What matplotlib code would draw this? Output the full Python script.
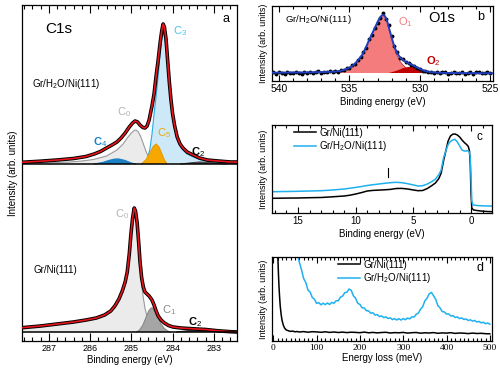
import matplotlib
matplotlib.use('Agg')
import matplotlib.pyplot as plt
from matplotlib.ticker import MultipleLocator
from matplotlib.lines import Line2D
import numpy as np

plt.rcParams['font.family'] = ['Liberation Sans', 'DejaVu Sans']
plt.rcParams['mathtext.fontset'] = 'custom'
plt.rcParams['mathtext.rm'] = 'Liberation Sans'
plt.rcParams['mathtext.it'] = 'Liberation Sans:italic'
plt.rcParams['mathtext.bf'] = 'Liberation Sans:bold'

# ---------------- Panel a: C1s ----------------
# Gr/H2O/Ni(111) (upper spectrum)
top_E = [287.65, 287.2, 286.8, 286.4, 286.1, 285.9, 285.75, 285.6, 285.45, 285.35, 285.25, 285.15,
         285.05, 284.97, 284.91, 284.85, 284.79, 284.72, 284.67, 284.62, 284.57, 284.54, 284.50,
         284.45, 284.40, 284.35, 284.30, 284.26, 284.23, 284.20, 284.16, 284.12, 284.08, 284.04,
         284.00, 283.95, 283.89, 283.82, 283.75, 283.65, 283.50, 283.35, 283.16, 282.9, 282.6, 282.44]
top_I = [1.7, 2.8, 4.0, 5.5, 7.5, 10, 12.5, 16, 19.5, 22, 26, 31, 37, 41, 43, 42, 39, 36.5, 36, 38,
         44, 50, 58, 70, 88, 104, 122, 134, 140, 137, 125, 103, 82, 64, 50, 38, 27, 20, 16, 12, 9,
         6, 4, 3, 2, 2]
c0t_E = [287.65, 287.0, 286.5, 286.2, 285.92, 285.6, 285.35, 285.2, 285.1, 285.0, 284.93, 284.89,
         284.83, 284.77, 284.7, 284.63, 284.55, 284.48, 284.4]
c0t_I = [0.8, 1.2, 2, 3, 4.5, 8, 14, 20, 26, 31, 33.5, 34, 32, 27, 19, 11, 5, 2, 0.5]
c3_E = [284.75, 284.65, 284.6, 284.55, 284.5, 284.45, 284.4, 284.35, 284.3, 284.26, 284.23, 284.2,
        284.16, 284.12, 284.08, 284.04, 284.0, 283.95, 283.89, 283.82, 283.75, 283.65, 283.5,
        283.35, 283.16, 282.9, 282.6]
c3_I = [0, 3, 7, 15, 30, 50, 68, 88, 112, 126, 131, 128, 117, 97, 77, 60, 46, 35, 25, 18, 14, 10,
        7, 4.5, 2.5, 1.5, 1]
c5_E = [284.75, 284.65, 284.55, 284.47, 284.40, 284.33, 284.26, 284.2, 284.14]
c5_I = [0, 4, 11, 17.5, 20, 17, 10, 4, 0.5]
c4_E = [285.9, 285.7, 285.55, 285.4, 285.3, 285.15, 285.0, 284.9]
c4_I = [0, 1.5, 3.5, 5, 5, 3.5, 1, 0]
c2t_E = [283.8, 283.55, 283.35, 283.15, 282.95, 282.7]
c2t_I = [0, 1.2, 2, 1.6, 0.8, 0]

# Gr/Ni(111) (lower spectrum)
bot_E = [287.65, 287.2, 286.8, 286.4, 286.1, 285.85, 285.65, 285.5, 285.4, 285.3, 285.22, 285.15,
         285.1, 285.05, 285.01, 284.97, 284.93, 284.9, 284.86, 284.82, 284.79, 284.75, 284.71,
         284.67, 284.62, 284.57, 284.5, 284.45, 284.4, 284.35, 284.28, 284.2, 284.1, 283.99,
         283.8, 283.5, 283.2, 282.9, 282.6, 282.44]
bot_I = [4.3, 6, 8, 10, 12, 14, 17, 21, 26, 33, 41, 50, 60, 78, 98, 114, 124, 121, 109, 88, 70,
         54, 45, 40, 38, 36, 32, 27, 21, 16, 12, 9, 6.5, 5, 4, 3.2, 2.5, 1.2, 0.3, 0]
c0b_E = [287.65, 287.2, 286.8, 286.4, 286.1, 285.85, 285.65, 285.5, 285.4, 285.3, 285.22, 285.15,
         285.1, 285.05, 285.01, 284.97, 284.93, 284.9, 284.86, 284.82, 284.79, 284.75, 284.71,
         284.67, 284.62, 284.57, 284.5, 284.45, 284.38, 284.3]
c0b_I = [4, 5.7, 7.6, 9.6, 11.5, 13.5, 16.5, 20.5, 25.5, 32.5, 40.5, 49.5, 59.5, 77.5, 97.5, 113,
         122, 119, 106, 84, 65, 47, 34, 24, 15, 9, 4.5, 2.5, 1, 0]
c1_E = [284.88, 284.8, 284.72, 284.65, 284.58, 284.52, 284.48, 284.42, 284.35, 284.28, 284.2,
        284.12, 284.05]
c1_I = [0, 2, 7, 14, 21, 24, 24, 20, 14, 8, 3.5, 1, 0]
c2b_E = [283.9, 283.6, 283.35, 283.1, 282.8, 282.5]
c2b_I = [0, 1.5, 2.5, 2, 0.8, 0]

# ---------------- Panel b: O1s ----------------
b_dat_E = list(np.round(np.arange(540.4, 524.95, -0.2), 1))
b_dat_I = [0.8, -0.5, 1.2, 0.1, -0.8, 1.0, 0.4, -0.3, 1.3, 0.2, -0.6, 1.1, 0.3, 1.5, -0.2, 0.9,
           1.6, 0.2, 1.4, 0.6, 1.9, 0.8, 2.2, 1.5, 3.4, 2.6, 4.9, 4.6, 7.9, 8.8, 13.0, 15.8, 21.5,
           25.4, 33.6, 38.0, 45.5, 50.2, 55.1, 59.8, 54.0, 47.6, 37.1, 26.8, 21.0, 15.1, 13.8,
           10.9, 10.4, 8.3, 7.4, 5.0, 4.4, 2.2, 2.5, 0.8, 1.4, -0.1, 0.9, -0.4, 0.6, 1.0, -0.6,
           0.4, 1.2, -0.2, 0.3, 1.1, -0.7, 0.2, 0.9, -0.5, 0.6, 1.3, -0.2, 0.4, 0.9, -0.4]
b_fit_E = [540.5, 539, 538, 537, 536.1, 535.7, 535.4, 535.0, 534.7, 534.4, 534.1, 533.85, 533.6,
           533.35, 533.1, 532.95, 532.8, 532.7, 532.6, 532.5, 532.4, 532.3, 532.15, 531.95, 531.8,
           531.6, 531.4, 531.2, 531.0, 530.8, 530.55, 530.3, 530.0, 529.7, 529.3, 528.7, 528, 526,
           524.8]
b_fit_I = [0.3, 0.5, 0.6, 0.9, 1.3, 2.0, 3.0, 5.2, 8.0, 12.5, 18.0, 25, 33, 40.5, 48, 52.5, 56,
           57.5, 58, 57.2, 55, 51, 43, 33, 26, 19.7, 15.5, 13, 11.2, 9.7, 8.2, 6.3, 4.2, 2.3, 1.0,
           0.3, 0.0, -0.2, -0.3]
b_o1_E = [537, 536.1, 535.4, 535.0, 534.7, 534.4, 534.1, 533.85, 533.6, 533.35, 533.1, 532.95,
          532.8, 532.7, 532.6, 532.5, 532.4, 532.3, 532.15, 531.95, 531.8, 531.6, 531.4, 531.2,
          531.0, 530.8, 530.55, 530.3, 529.7, 529.0]
b_o1_I = [0.2, 0.9, 2.6, 4.8, 7.5, 12, 17.5, 24.5, 32.5, 40, 47.5, 52, 55.5, 57, 57.5, 56.7, 54.5,
          50.5, 42.5, 32, 24.5, 17, 11.5, 8, 5.3, 3.5, 2.2, 1.2, 0.3, 0]
b_o2_E = [532.2, 531.9, 531.6, 531.4, 531.2, 531.0, 530.8, 530.6, 530.4, 530.2, 530.0, 529.8,
          529.6, 529.4, 529.1]
b_o2_I = [0, 1.2, 2.5, 3.6, 4.8, 5.6, 6.0, 6.1, 5.8, 5.0, 3.8, 2.5, 1.5, 0.8, 0]

# ---------------- Panel c: valence band ----------------
c_blk_E = [17.2, 16, 15, 14, 13, 12, 11, 10.5, 10, 9.5, 9, 8.5, 8, 7.5, 7, 6.5, 6, 5.5, 5, 4.6,
           4.2, 3.8, 3.4, 3.1, 2.8, 2.6, 2.4, 2.2, 2.0, 1.8, 1.6, 1.4, 1.2, 1.0, 0.8, 0.6, 0.4,
           0.25, 0.15, 0.08, 0.02, -0.05, -0.2, -0.6, -1.0, -1.4, -1.8]
c_blk_I = [14.7, 14.9, 15.0, 15.3, 15.5, 16.2, 17.0, 17.8, 19.0, 20.4, 22.0, 22.6, 22.9, 23.2,
           23.6, 24.5, 24.6, 24.0, 23.0, 22.3, 22.5, 24.5, 27.5, 30.0, 34.5, 40.0, 52.0, 62.0,
           72.0, 77.0, 78.8, 79.0, 78.0, 76.0, 73.0, 70.5, 68.5, 66.5, 62.0, 48.0, 20.0, 5.0, 3.0,
           2.3, 1.8, 1.5, 1.3]
c_blu_E = [17.2, 16, 15, 14, 13, 12, 11, 10.5, 10, 9.5, 9, 8.5, 8, 7.5, 7, 6.5, 6, 5.5, 5, 4.6,
           4.2, 3.8, 3.4, 3.1, 2.8, 2.6, 2.4, 2.2, 2.0, 1.8, 1.6, 1.4, 1.2, 1.0, 0.8, 0.6, 0.45,
           0.3, 0.2, 0.1, 0.03, -0.05, -0.15, -0.6, -1.0, -1.4, -1.8]
c_blu_I = [21.3, 21.5, 21.7, 22.0, 22.3, 23.0, 24.0, 24.8, 25.6, 26.5, 27.5, 28.3, 29.0, 29.7,
           30.3, 30.7, 30.3, 29.3, 28.0, 27.0, 27.3, 29.0, 31.5, 33.8, 38.5, 43.0, 55.0, 62.0,
           68.5, 71.5, 73.0, 73.6, 71.0, 67.0, 63.0, 62.0, 62.0, 62.3, 61.5, 58.0, 40.0, 12.0,
           8.0, 7.4, 7.2, 7.0, 7.0]
c_mark_E = 7.2
c_mark_I = [36, 45]

# ---------------- Panel d: HREELS ----------------
d_blk_E = [9, 10, 11, 12, 13, 14, 15, 16, 18, 20, 23, 26, 30, 35, 40, 45, 50, 55, 60] + \
          list(range(70, 501, 10))
d_blk_I = [100, 90, 78, 66, 56, 48, 41, 35, 27, 21, 16, 13, 11, 10.2, 9.6, 9.9, 9.2, 9.5, 9.0,
           9.4, 8.8, 9.3, 9.1, 8.7, 9.2, 8.6, 9.0, 8.5, 8.9,
           8.4, 8.8, 8.6, 8.3, 8.9, 8.2, 8.6, 8.1, 8.5, 8.7,
           8.0, 8.4, 8.2, 8.6, 7.9, 8.3, 8.5, 7.8, 8.2, 8.0,
           8.4, 7.7, 8.1, 7.9, 8.3, 7.6, 8.0, 7.8, 7.4, 7.9,
           7.5, 7.7, 7.3, 7.2]
d_blu_E = list(range(55, 501, 5))
d_blu_I = [88, 79, 71.5, 62.5, 58.5, 51, 49, 43.5, 41.8, 37.6, 38.4, 36.2, 37.8, 36.4, 38.0, 36.5,
           38.6, 37.7, 40.3, 40.2, 43.8, 44.9, 48.3, 48.8, 52.0, 50.6, 45.2, 42.8, 37.7, 36.6,
           33.2, 33.1, 30.3, 30.1, 27.8, 28.2, 25.9, 26.4, 24.4, 25.1, 23.4, 24.1, 22.5, 23.2,
           21.4, 22.4, 21.0, 22.3, 20.9, 22.5, 21.3, 23.0, 22.1, 24.2, 23.9, 26.7, 27.8, 31.8,
           34.3, 40.2, 42.8, 47.2, 48.6, 45.3, 41.7, 35.4, 33.1, 29.4, 29.1, 26.9, 27.1, 25.0,
           25.4, 23.5, 24.1, 22.4, 23.1, 21.5, 22.1, 20.5, 21.2, 19.8, 20.6, 19.0, 19.6, 18.1,
           18.8, 17.3, 18.0, 16.8]

# ---------------- figure ----------------
W, H = 500, 369
fig = plt.figure(figsize=(5, 3.69), dpi=100)


def axes_px(l, t, r, b):
    return fig.add_axes([l / W, 1 - b / H, (r - l) / W, (b - t) / H])


def text_px(x, y, s, **kw):
    kw.setdefault('va', 'center')
    fig.text(x / W, 1 - y / H, s, **kw)


def style(ax, maj, mnr, lsize, mlen=4.5, nlen=2.2):
    ax.set_yticks([])
    ax.xaxis.set_major_locator(MultipleLocator(maj))
    ax.xaxis.set_minor_locator(MultipleLocator(mnr))
    ax.tick_params(axis='x', which='both', direction='in', top=True, bottom=True,
                   labelsize=lsize, pad=2.5, width=0.8)
    ax.tick_params(axis='x', which='major', length=mlen)
    ax.tick_params(axis='x', which='minor', length=nlen)
    for s in ax.spines.values():
        s.set_linewidth(0.9)


RED = '#e8141c'
H2O = r'Gr/H$_\mathrm{2}$O/Ni(111)'

# panel a
ax = axes_px(22, 5, 237, 341)
ax.set_xlim(287.65, 282.44)
ax.set_ylim(0, 336)
off_t, off_b = 177, 9


def comp(E, I, off, fc, ec, z=2, lw=0.8):
    E = np.array(E)
    I = np.array(I)
    ax.fill_between(E, off + I, off, facecolor=fc, edgecolor='none', zorder=z)
    ax.plot(E, off + I, color=ec, lw=lw, zorder=z + 0.1)


comp(c0t_E, c0t_I, off_t, '#ebebeb', '#9a9a9a')
comp(c3_E, c3_I, off_t, '#cde9f8', '#2aaae6')
comp(c4_E, c4_I, off_t, '#1b7fc4', '#1b7fc4', z=3)
comp(c5_E, c5_I, off_t, '#f7a800', '#e89a00', z=3)
comp(c2t_E, c2t_I, off_t, '#555555', '#444444', z=3)
comp(c0b_E, c0b_I, off_b, '#ebebeb', '#9a9a9a')
comp(c1_E, c1_I, off_b, '#a5a5a5', '#888888', z=3)
comp(c2b_E, c2b_I, off_b, '#555555', '#444444', z=3)
for E, I, off in [(top_E, top_I, off_t), (bot_E, bot_I, off_b)]:
    ax.plot(E, off + np.array(I), color='k', lw=2.6, zorder=5)
    ax.plot(E, off + np.array(I), color=RED, lw=1.2, zorder=6)
ax.axhline(off_t, color='k', lw=1.1, zorder=7)
ax.axhline(off_b, color='k', lw=1.1, zorder=7)
style(ax, 1, 0.2, 6.5, mlen=5.5, nlen=2.6)
ax.set_xlabel('Binding energy (eV)', fontsize=7, labelpad=1)
ax.set_ylabel('Intensity (arb. units)', fontsize=7, labelpad=3)

text_px(45, 29, 'C1s', fontsize=11)
text_px(226, 19, 'a', fontsize=9, ha='center')
text_px(32, 84, H2O, fontsize=7)
text_px(173, 31, r'C$_\mathrm{3}$', fontsize=8, color='#4cc2f0')
text_px(117, 112, r'C$_\mathrm{0}$', fontsize=8, color='#b4b4b4')
text_px(93, 142, r'C$_\mathrm{4}$', fontsize=8, color='#1b7fc4', fontweight='bold')
text_px(157, 133, r'C$_\mathrm{5}$', fontsize=8, color='#f5a300')
text_px(191, 152, r'C$_\mathrm{2}$', fontsize=8, color='k', fontweight='bold')
text_px(115, 214, r'C$_\mathrm{0}$', fontsize=8, color='#b4b4b4')
text_px(34, 270, 'Gr/Ni(111)', fontsize=7)
text_px(162, 310, r'C$_\mathrm{1}$', fontsize=8, color='#8a8a8a')
text_px(188, 322, r'C$_\mathrm{2}$', fontsize=8, color='k', fontweight='bold')

# panel b
axb = axes_px(272, 6, 493, 81)
axb.set_xlim(540.5, 524.8)
axb.set_ylim(-8, 67)
axb.fill_between(b_o1_E, b_o1_I, 0, facecolor='#f47c7c', edgecolor='none', zorder=2)
axb.plot(b_o1_E, b_o1_I, color='#c83030', lw=0.6, zorder=2.1)
axb.fill_between(b_o2_E, b_o2_I, 0, facecolor='#c00000', edgecolor='none', zorder=3)
axb.plot(b_dat_E, b_dat_I, 'o', color='k', ms=1.8, zorder=4)
axb.plot(b_fit_E, b_fit_I, color='#1f3fbf', lw=1.4, zorder=5)
style(axb, 5, 1, 7.5)
axb.set_xlabel('Binding energy (eV)', fontsize=7, labelpad=1.5)
axb.set_ylabel('Intensity (arb. units)', fontsize=6.5, labelpad=3)
text_px(285, 20, H2O, fontsize=6.8)
text_px(398, 22, r'O$_\mathrm{1}$', fontsize=8, color='#f47c7c')
text_px(426, 61, r'O$_\mathrm{2}$', fontsize=8, color='#c00000', fontweight='bold')
text_px(428, 18, 'O1s', fontsize=10.5)
text_px(481, 17, 'b', fontsize=9, ha='center')

# panel c
axc = axes_px(272, 125, 492, 213)
axc.set_xlim(17.25, -1.8)
axc.set_ylim(0, 88)
axc.plot(c_blk_E, c_blk_I, color='k', lw=1.1, label='Gr/Ni(111)')
axc.plot(c_blu_E, c_blu_I, color='#1fb0f0', lw=1.1, label=H2O)
axc.plot([c_mark_E, c_mark_E], c_mark_I, color='k', lw=0.8)
style(axc, 5, 1, 7)
axc.set_xlabel('Binding energy (eV)', fontsize=7, labelpad=1.5)
axc.set_ylabel('Intensity (arb. units)', fontsize=6.5, labelpad=3)
axc.legend(loc='upper left', bbox_to_anchor=(0.1, 0.97), frameon=False, fontsize=7,
           handlelength=2.3, handletextpad=0.3, labelspacing=0.15, borderaxespad=0,
           borderpad=0)
text_px(479, 137, 'c', fontsize=8.5, ha='center')

# panel d
axd = axes_px(272, 257, 492, 341)
axd.set_xlim(-3, 505)
axd.set_ylim(0, 84)
axd.plot(d_blk_E, d_blk_I, color='k', lw=1.1, label='Gr/Ni(111)')
axd.plot(d_blu_E, d_blu_I, color='#1fb0f0', lw=1.1, label=H2O)
style(axd, 100, 10, 6.8, mlen=4, nlen=2)
for lbl in axd.get_xticklabels():
    lbl.set_family('Liberation Serif')
axd.set_xlabel('Energy loss (meV)', fontsize=7, labelpad=0.5)
axd.set_ylabel('Intensity (arb. units)', fontsize=6.5, labelpad=3)
axd.legend(loc='upper left', bbox_to_anchor=(0.3, 0.97), frameon=False, fontsize=7,
           handlelength=2.3, handletextpad=0.3, labelspacing=0.15, borderaxespad=0,
           borderpad=0)
text_px(480, 268, 'd', fontsize=9, ha='center')

fig.savefig('out.png', dpi=100)
